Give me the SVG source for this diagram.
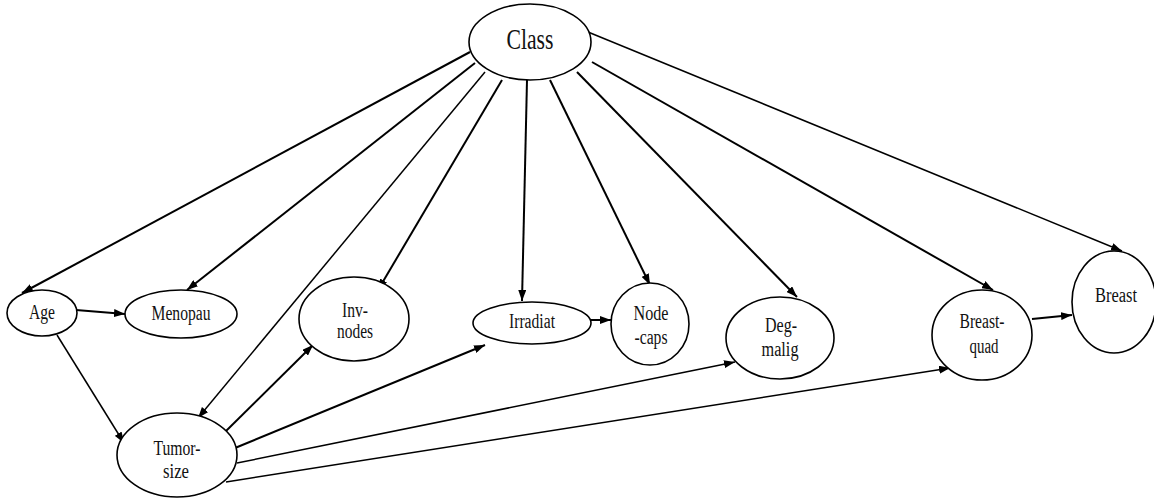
<svg xmlns="http://www.w3.org/2000/svg" width="1154" height="500" viewBox="0 0 1154 500">
<defs>
<style>
.node ellipse{fill:#fff;stroke:#000;stroke-width:1.6}
.node text{font-family:"Liberation Serif","Times New Roman",serif;font-size:20px;fill:#111;text-anchor:middle}
#connectors line{stroke:#000;stroke-width:2;marker-end:url(#arr)}
#connectors line.thin{stroke-width:1.5}
</style>
<marker id="arr" markerWidth="11" markerHeight="8" refX="11" refY="4" orient="auto" markerUnits="userSpaceOnUse">
<path d="M0,0 L11,4 L0,8 z" fill="#000"/>
</marker>
</defs>
<rect width="1154" height="500" fill="#fff"/>
<g id="connectors">
<line x1="470" y1="52" x2="22" y2="293"/>
<line x1="475" y1="63" x2="187" y2="290"/>
<line x1="485" y1="72" x2="198" y2="418" class="thin"/>
<line x1="502" y1="80" x2="378" y2="290"/>
<line x1="527" y1="80" x2="522" y2="301"/>
<line x1="550" y1="80" x2="650" y2="285"/>
<line x1="577" y1="72" x2="797" y2="297"/>
<line x1="592" y1="62" x2="993" y2="290"/>
<line x1="588" y1="32" x2="1122" y2="251" class="thin"/>
<line x1="76" y1="310" x2="125" y2="314"/>
<line x1="57" y1="335" x2="124" y2="443" class="thin"/>
<line x1="225" y1="432" x2="313" y2="345"/>
<line x1="235" y1="448" x2="485" y2="345"/>
<line x1="237" y1="463" x2="735" y2="362" class="thin"/>
<line x1="226" y1="482" x2="950" y2="368" class="thin"/>
<line x1="591" y1="320" x2="611" y2="320"/>
<line x1="1032" y1="319" x2="1072" y2="315"/>
</g>
<g id="class" class="node">
<ellipse cx="530" cy="42" rx="61" ry="38"/>
<text x="530" y="49" style="font-size:29px" textLength="47" lengthAdjust="spacingAndGlyphs">Class</text>
</g>
<g id="age" class="node">
<ellipse cx="42" cy="313" rx="35" ry="23"/>
<text x="42" y="319" textLength="26" lengthAdjust="spacingAndGlyphs">Age</text>
</g>
<g id="menopau" class="node">
<ellipse cx="181" cy="314" rx="56" ry="24"/>
<text x="181" y="320" textLength="59" lengthAdjust="spacingAndGlyphs">Menopau</text>
</g>
<g id="inv-nodes" class="node">
<ellipse cx="354" cy="319" rx="55" ry="42"/>
<text x="355" y="317" textLength="26" lengthAdjust="spacingAndGlyphs">Inv-</text>
<text x="355" y="338" textLength="36" lengthAdjust="spacingAndGlyphs">nodes</text>
</g>
<g id="irradiat" class="node">
<ellipse cx="532" cy="323" rx="59" ry="21"/>
<text x="532" y="328" textLength="46" lengthAdjust="spacingAndGlyphs">Irradiat</text>
</g>
<g id="node-caps" class="node">
<ellipse cx="650" cy="324" rx="39" ry="41"/>
<text x="651" y="320" textLength="35" lengthAdjust="spacingAndGlyphs">Node</text>
<text x="651" y="344" textLength="33" lengthAdjust="spacingAndGlyphs">-caps</text>
</g>
<g id="deg-malig" class="node">
<ellipse cx="780" cy="338" rx="54" ry="41"/>
<text x="781" y="332" textLength="32" lengthAdjust="spacingAndGlyphs">Deg-</text>
<text x="780" y="356" textLength="37" lengthAdjust="spacingAndGlyphs">malig</text>
</g>
<g id="breast-quad" class="node">
<ellipse cx="982" cy="335" rx="50" ry="45"/>
<text x="982" y="328" textLength="45" lengthAdjust="spacingAndGlyphs">Breast-</text>
<text x="984" y="353" textLength="29" lengthAdjust="spacingAndGlyphs">quad</text>
</g>
<g id="breast" class="node">
<ellipse cx="1114" cy="302" rx="42" ry="51"/>
<text x="1116" y="302" textLength="42" lengthAdjust="spacingAndGlyphs">Breast</text>
</g>
<g id="tumor-size" class="node">
<ellipse cx="177" cy="455" rx="60" ry="42"/>
<text x="177" y="455" textLength="47" lengthAdjust="spacingAndGlyphs">Tumor-</text>
<text x="176" y="478" textLength="26" lengthAdjust="spacingAndGlyphs">size</text>
</g>
</svg>
